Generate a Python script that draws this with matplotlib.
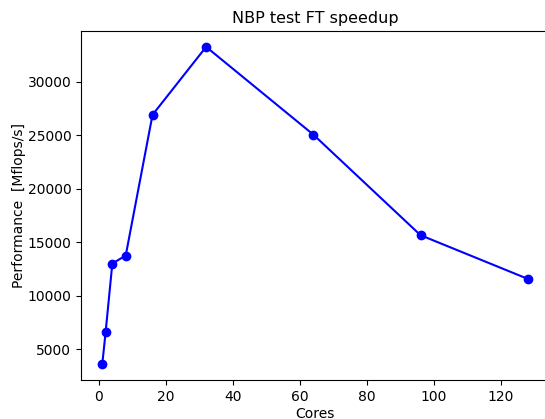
import matplotlib
matplotlib.use("Agg")
import matplotlib.pyplot as plt

cores = [1, 2, 4, 8, 16, 32, 64, 96, 128]
mflops = [3600, 6600, 13000, 13750, 26900, 33250, 25050, 15650, 11570]

W, H = 545, 419
fig = plt.figure(figsize=(W / 100, H / 100), dpi=100)
ax = fig.add_axes([81 / W, (H - 380) / H, 468 / W, 349 / H])
ax.plot(cores, mflops, color='b', marker='o', linewidth=1.5, markersize=6)
ax.set_title("NBP test FT speedup", fontsize=11.5)
ax.set_xlabel("Cores", labelpad=2)
ax.set_ylabel("Performance  [Mflops/s]", labelpad=1)
fig.savefig("out.png", dpi=100)
